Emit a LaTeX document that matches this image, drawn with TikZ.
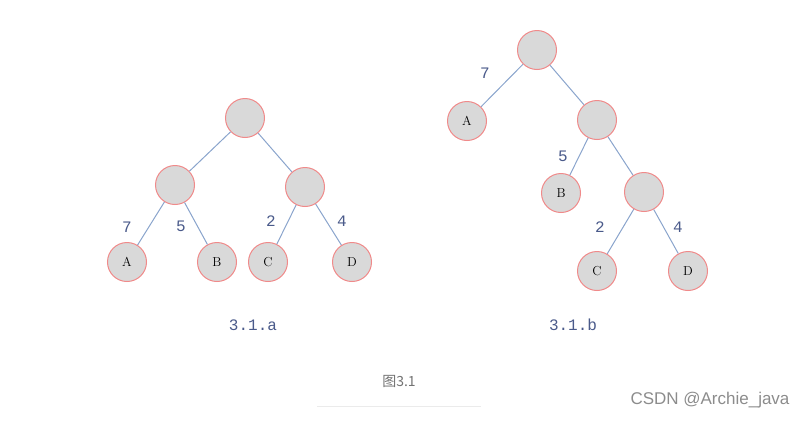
\documentclass[tikz,border=0pt]{standalone}
\usepackage{fontspec}
\newfontfamily\cjk{Noto Sans CJK SC}
\newfontfamily\mono{Liberation Mono}
\newfontfamily\sans{Liberation Sans}
\definecolor{edgec}{HTML}{8AA4CC}
\definecolor{labc}{HTML}{4A5A8A}
\definecolor{bord}{HTML}{F08A8A}
\begin{document}
\begin{tikzpicture}[x=1pt,y=-1pt,
 nd/.style={circle,draw=bord,fill=black!15,line width=1pt,minimum size=39pt,inner sep=0pt,font=\fontsize{13}{13}\selectfont},
 ed/.style={draw=edgec,line width=1pt},
 lb/.style={text=labc,font=\mono\fontsize{16}{16}\selectfont}]
\useasboundingbox (0,0) rectangle (812,421);
% left tree
\node[nd] (r1) at (245,118) {};
\node[nd] (l1) at (175,185) {};
\node[nd] (m1) at (305,187) {};
\node[nd] (a1) at (127,262) {A};
\node[nd] (b1) at (217,262) {B};
\node[nd] (c1) at (268,262) {C};
\node[nd] (d1) at (352,262) {D};
\draw[ed] (r1)--(l1) (r1)--(m1) (l1)--(a1) (l1)--(b1) (m1)--(c1) (m1)--(d1);
\node[lb] (t7a) at (127,227) {7};
\node[lb] (t5a) at (181,226) {5};
\node[lb] (t2a) at (271,221) {2};
\node[lb] (t4a) at (342,221) {4};
\node[lb] (cap1) at (253,325) {3.1.a};
% right tree
\node[nd] (r2) at (537,50) {};
\node[nd] (a2) at (467,121) {A};
\node[nd] (n2) at (597,120) {};
\node[nd] (b2) at (561,193) {B};
\node[nd] (m2) at (644,192) {};
\node[nd] (c2) at (597,271) {C};
\node[nd] (d2) at (688,271) {D};
\draw[ed] (r2)--(a2) (r2)--(n2) (n2)--(b2) (n2)--(m2) (m2)--(c2) (m2)--(d2);
\node[lb] (t7b) at (485,73) {7};
\node[lb] (t5b) at (563,156) {5};
\node[lb] (t2b) at (600,227) {2};
\node[lb] (t4b) at (678,227) {4};
\node[lb] (cap2) at (573,325) {3.1.b};
% caption
\node[text=black!55,font=\cjk\fontsize{14}{14}\selectfont] (fig) at (399,381) {图3.1};
\draw[black!8,line width=0.8pt] (317,406) -- (481,406);
\node[text=black!45,font=\sans\fontsize{17}{17}\selectfont] (wm) at (710,400) {CSDN @Archie\_java};
\end{tikzpicture}
\end{document}
